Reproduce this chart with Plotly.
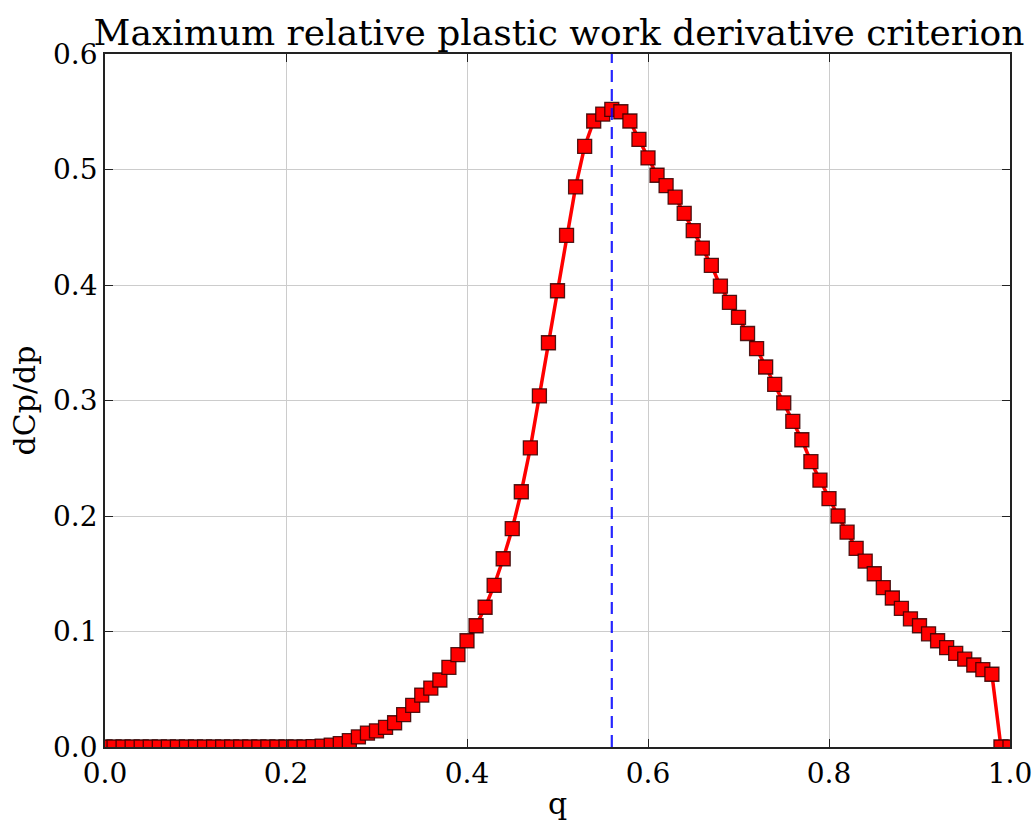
import plotly.graph_objects as go

# q grid and criterion values
q = [0.00, 0.01, 0.02, 0.03, 0.04, 0.05, 0.06, 0.07, 0.08, 0.09,
     0.10, 0.11, 0.12, 0.13, 0.14, 0.15, 0.16, 0.17, 0.18, 0.19,
     0.20, 0.21, 0.22, 0.23, 0.24, 0.25, 0.26, 0.27, 0.28, 0.29,
     0.30, 0.31, 0.32, 0.33, 0.34, 0.35, 0.36, 0.37, 0.38, 0.39,
     0.40, 0.41, 0.42, 0.43, 0.44, 0.45, 0.46, 0.47, 0.48, 0.49,
     0.50, 0.51, 0.52, 0.53, 0.54, 0.55, 0.56, 0.57, 0.58, 0.59,
     0.60, 0.61, 0.62, 0.63, 0.64, 0.65, 0.66, 0.67, 0.68, 0.69,
     0.70, 0.71, 0.72, 0.73, 0.74, 0.75, 0.76, 0.77, 0.78, 0.79,
     0.80, 0.81, 0.82, 0.83, 0.84, 0.85, 0.86, 0.87, 0.88, 0.89,
     0.90, 0.91, 0.92, 0.93, 0.94, 0.95, 0.96, 0.97, 0.98, 0.99,
     1.00]

dcp_dp = [0, 0, 0, 0, 0, 0, 0, 0, 0, 0,
          0, 0, 0, 0, 0, 0, 0, 0, 0, 0,
          0, 0, 0, 0.0003, 0.0008, 0.0016, 0.003, 0.0055, 0.0087, 0.012,
          0.014, 0.017, 0.021, 0.028, 0.036, 0.045, 0.051, 0.058, 0.069, 0.080,
          0.092, 0.105, 0.121, 0.140, 0.163, 0.189, 0.221, 0.259, 0.304, 0.350,
          0.395, 0.443, 0.485, 0.520, 0.542, 0.548, 0.552, 0.550, 0.542, 0.526,
          0.510, 0.495, 0.486, 0.476, 0.462, 0.447, 0.432, 0.417, 0.399, 0.385,
          0.372, 0.358, 0.345, 0.329, 0.314, 0.298, 0.282, 0.266, 0.247, 0.231,
          0.215, 0.200, 0.186, 0.172, 0.161, 0.150, 0.138, 0.129, 0.120, 0.111,
          0.105, 0.098, 0.092, 0.086, 0.081, 0.076, 0.071, 0.067, 0.063, 0,
          0]

q_max = 0.56
y_range = [0, 0.6]

font = "DejaVu Serif"

fig = go.Figure()

fig.add_trace(go.Scatter(x=q, y=dcp_dp, mode="lines+markers",
                         line=dict(color="red", width=3.5),
                         marker=dict(symbol="square", size=14, color="red",
                                     line=dict(color="rgba(50,0,0,0.85)", width=1.3)),
                         cliponaxis=True, showlegend=False, hoverinfo="skip"))

fig.add_trace(go.Scatter(x=[q_max, q_max], y=y_range, mode="lines",
                         line=dict(color="rgba(0,0,255,0.85)", width=2.2, dash="12px,7px"),
                         showlegend=False, hoverinfo="skip"))

axis_style = dict(showline=True, linecolor="#222222", linewidth=1.8, mirror="allticks",
                  ticks="inside", ticklen=8, tickwidth=1, tickcolor="#222222",
                  showgrid=True, gridcolor="#cccccc", gridwidth=1,
                  zeroline=False, tickformat=".1f", automargin=False,
                  ticklabeloverflow="allow",
                  tickfont=dict(family=font, size=28, color="black"))

fig.update_layout(
    width=1034, height=822,
    margin=dict(l=105, r=24, t=54, b=75),
    paper_bgcolor="white", plot_bgcolor="white",
    font=dict(family=font, color="black"),
    title=dict(text="Maximum relative plastic work derivative criterion",
               font=dict(family=font, size=36, color="black"),
               x=0.5406, xanchor="center", yref="container", y=0.961, yanchor="middle"),
    xaxis=dict(range=[0, 1], dtick=0.2,
               title=dict(text="q", font=dict(family=font, size=30), standoff=4),
               **axis_style),
    yaxis=dict(range=y_range, dtick=0.1,
               title=dict(text="dCp/dp", font=dict(family=font, size=30), standoff=8),
               **axis_style),
)

# drop the default page margin so the figure sits at the window's corner
fig.write_html("out.html", config={"displayModeBar": False},
               post_script="document.body.style.margin = '0';")
